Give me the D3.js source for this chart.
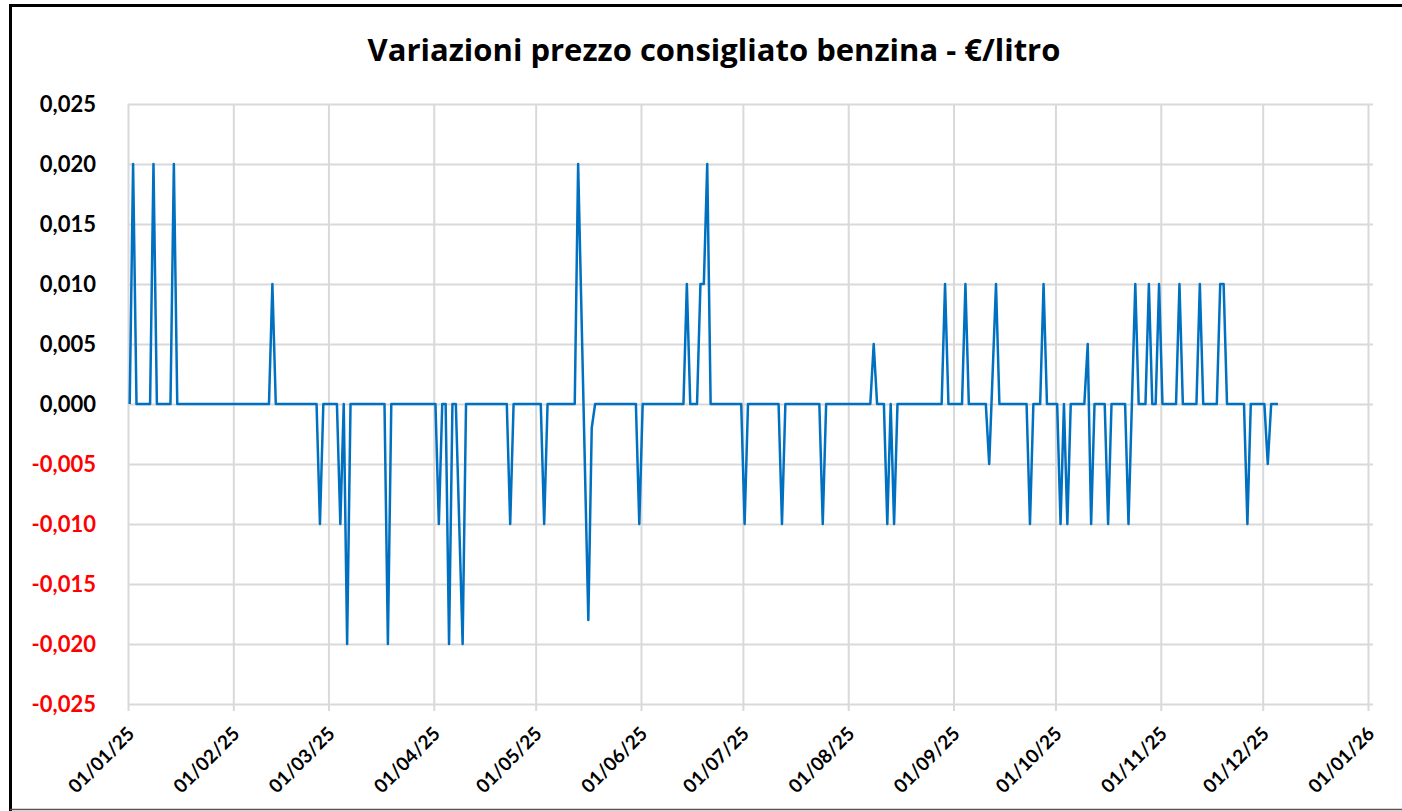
<!DOCTYPE html>
<html>
<head>
<meta charset="utf-8">
<script src="https://cdn.jsdelivr.net/npm/d3@7"></script>
<style>
  body { margin: 0; background: #fff; }
  svg { display: block; }
</style>
</head>
<body>
<svg></svg>
<script>
// dates where the series changes direction (dd/mm/yy) and the variation on that day
let dates = [
  "01/01/25","02/01/25","03/01/25","07/01/25","08/01/25","09/01/25","13/01/25","14/01/25","15/01/25",
  "11/02/25","12/02/25","13/02/25","25/02/25","26/02/25","27/02/25",
  "03/03/25","04/03/25","05/03/25","06/03/25","07/03/25","17/03/25","18/03/25","19/03/25",
  "01/04/25","02/04/25","03/04/25","04/04/25","05/04/25","06/04/25","07/04/25","09/04/25","10/04/25",
  "22/04/25","23/04/25","24/04/25",
  "02/05/25","03/05/25","04/05/25","12/05/25","13/05/25","16/05/25","17/05/25","18/05/25","30/05/25","31/05/25",
  "01/06/25","13/06/25","14/06/25","15/06/25","17/06/25","18/06/25","19/06/25","20/06/25","21/06/25","30/06/25",
  "01/07/25","02/07/25","11/07/25","12/07/25","13/07/25","23/07/25","24/07/25","25/07/25",
  "07/08/25","08/08/25","09/08/25","11/08/25","12/08/25","13/08/25","14/08/25","15/08/25","28/08/25","29/08/25","30/08/25",
  "03/09/25","04/09/25","05/09/25","10/09/25","11/09/25","13/09/25","14/09/25","22/09/25","23/09/25","24/09/25","26/09/25","27/09/25","28/09/25",
  "01/10/25","02/10/25","03/10/25","04/10/25","05/10/25","09/10/25","10/10/25","11/10/25","12/10/25","15/10/25","16/10/25","17/10/25",
  "21/10/25","22/10/25","24/10/25","25/10/25","27/10/25","28/10/25","29/10/25","30/10/25","31/10/25",
  "01/11/25","05/11/25","06/11/25","07/11/25","11/11/25","12/11/25","13/11/25","17/11/25","18/11/25","19/11/25","20/11/25",
  "25/11/25","26/11/25","27/11/25",
  "01/12/25","02/12/25","03/12/25","05/12/25"
]
let values = [
  0,0.020,0,0,0.020,0,0,0.020,0,
  0,0.010,0,0,-0.010,0,
  0,-0.010,0,-0.020,0,0,-0.020,0,
  0,-0.010,0,0,-0.020,0,0,-0.020,0,
  0,-0.010,0,
  0,-0.010,0,0,0.020,-0.018,-0.002,0,0,-0.010,
  0,0,0.010,0,0,0.010,0.010,0.020,0,0,
  -0.010,0,0,-0.010,0,0,-0.010,0,
  0,0.005,0,0,-0.010,0,-0.010,0,0,0.010,0,
  0,0.010,0,0,-0.005,0.010,0,0,-0.010,0,0,0.010,0,
  0,-0.010,0,-0.010,0,0,0.005,-0.010,0,0,-0.010,0,
  0,-0.010,0.010,0,0,0.010,0,0,0.010,
  0,0,0.010,0,0,0.010,0,0,0.010,0.010,0,
  0,-0.010,0,
  0,-0.005,0,0
]
let yTicks = [-0.025,-0.020,-0.015,-0.010,-0.005,0,0.005,0.010,0.015,0.020,0.025]
let title = "Variazioni prezzo consigliato benzina - €/litro"

let width = 1402
let height = 811
let plotLeft = 128, plotRight = 1368, plotTop = 104, plotBottom = 704
let font = "Lato, 'Open Sans', sans-serif"

let parse = d3.timeParse("%d/%m/%y")
let fmtDate = d3.timeFormat("%d/%m/%y")
let fmtVal = (v) => d3.format(".3f")(v).replace("−", "-").replace(".", ",")

let points = dates.map((d, i) => [parse(d), values[i]])

let svg = d3.select("svg").attr("width", width).attr("height", height)

// chart frame
svg.append("path")
    .attr("d", "M10.5," + height + "V5.5H" + width)
    .attr("fill", "none")
    .attr("stroke", "#000")
    .attr("stroke-width", 3)
svg.append("line")
    .attr("x1", 10).attr("x2", width)
    .attr("y1", 809.5).attr("y2", 809.5)
    .attr("stroke", "#555")
    .attr("stroke-width", 1.5)

let xScale = d3.scaleTime()
    .domain([parse("01/01/25"), parse("01/01/26")])
    .range([plotLeft, plotRight])

let yScale = d3.scaleLinear()
    .domain([-0.025, 0.025])
    .range([plotBottom, plotTop])

// horizontal grid + y labels
let yAxis = d3.axisLeft(yScale)
    .tickValues(yTicks)
    .tickSize(-(plotRight - plotLeft + 5))
    .tickPadding(32)
    .tickFormat(fmtVal)

let gy = svg.append("g")
    .attr("transform", "translate(" + plotLeft + ",0)")
    .call(yAxis)
gy.select(".domain").remove()
gy.selectAll(".tick line").attr("stroke", "#d9d9d9").attr("stroke-width", 2)
gy.selectAll(".tick text")
    .attr("font-family", font)
    .attr("font-weight", "bold")
    .attr("font-size", "22px")
    .attr("fill", (d) => d < 0 ? "#ff0000" : "#000")

// vertical grid + date labels
let xAxis = d3.axisBottom(xScale)
    .ticks(d3.timeMonth.every(1))
    .tickSize(-(plotBottom - plotTop))
    .tickFormat(fmtDate)

let gx = svg.append("g")
    .attr("transform", "translate(0," + plotBottom + ")")
    .call(xAxis)
gx.select(".domain").remove()
gx.selectAll(".tick line")
    .attr("stroke", "#d9d9d9")
    .attr("stroke-width", 2)
    .attr("y2", 7)
    .attr("y1", -(plotBottom - plotTop))
gx.selectAll(".tick text")
    .attr("font-family", font)
    .attr("font-weight", "bold")
    .attr("font-size", "19px")
    .attr("fill", "#000")
    .attr("text-anchor", "end")
    .attr("dy", null)
    .attr("y", 0)
    .attr("transform", "translate(7,31)rotate(-45)")

// line, points sit in the middle of their day
let line = d3.line()
    .x((p) => xScale(d3.timeHour.offset(p[0], 12)))
    .y((p) => yScale(p[1]))

svg.append("path")
    .datum(points)
    .attr("d", line)
    .attr("fill", "none")
    .attr("stroke", "#0070c0")
    .attr("stroke-width", 2.5)
    .attr("stroke-linejoin", "round")

svg.append("text")
    .attr("x", 714)
    .attr("y", 61)
    .attr("text-anchor", "middle")
    .attr("font-family", "'Open Sans', sans-serif")
    .attr("font-weight", "bold")
    .attr("font-size", "31px")
    .attr("fill", "#000")
    .text(title)
</script>
</body>
</html>
